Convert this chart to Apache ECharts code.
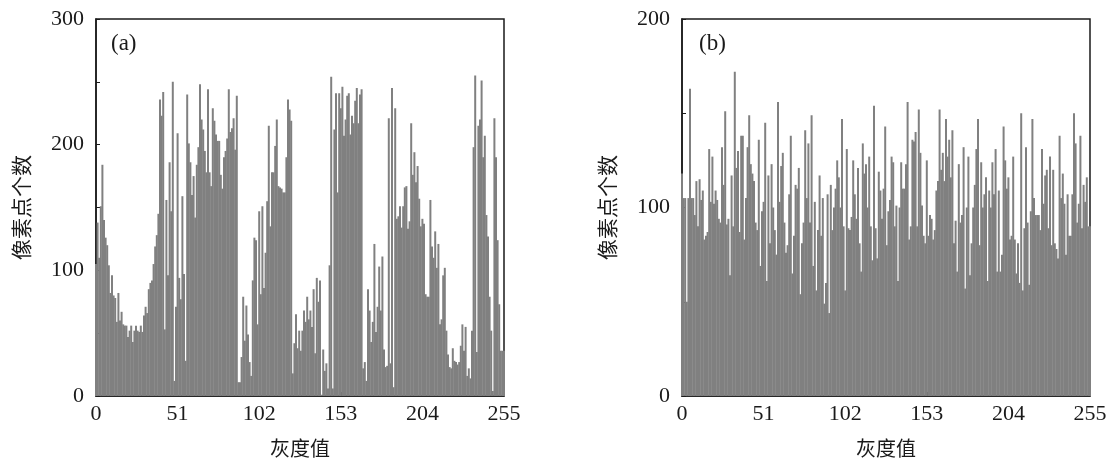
<!DOCTYPE html>
<html><head><meta charset="utf-8">
<style>html,body{margin:0;padding:0;background:#fff}#c{width:1112px;height:459px}</style>
<script src="https://cdn.jsdelivr.net/npm/echarts@6/dist/echarts.min.js"></script>
</head><body><div id="c"></div>
<script>
const xTicks = [0, 51, 102, 153, 204, 255];
const countsA = [
105,138,110,151,184,140,126,120,104,82,
96,80,78,59,82,60,67,57,56,56,
47,52,56,43,52,56,52,51,56,51,
64,71,66,85,90,92,105,119,128,145,
236,223,242,53,156,96,186,147,250,12,
71,209,94,77,159,97,28,240,201,186,
160,175,142,184,198,248,220,212,195,178,
244,178,167,229,219,208,203,203,176,165,
190,195,205,244,210,213,221,196,239,11,
11,31,79,44,72,49,27,16,92,126,
124,57,147,81,151,86,114,155,215,135,
178,178,199,220,167,166,165,162,162,190,
236,228,219,18,42,65,38,52,36,52,
68,59,79,61,68,55,85,34,94,75,
92,1,37,20,26,6,104,254,6,212,
241,162,241,229,246,207,220,239,241,208,
223,217,235,245,217,240,244,22,27,12,
85,68,43,59,121,51,71,103,68,111,
37,23,24,221,26,245,7,229,141,143,
151,134,151,166,167,133,139,217,176,194,
170,183,157,135,141,137,81,79,79,156,
119,110,131,102,121,57,61,96,102,52,
33,23,22,38,28,27,25,27,40,57,
36,55,16,22,14,52,198,255,35,215,
220,251,190,207,144,127,79,52,4,221,
190,124,73,36,36,36];
const countsB = [
118,105,105,50,105,163,105,105,96,114,
90,115,104,109,83,85,87,131,103,127,
102,109,104,94,92,132,112,151,91,94,
64,117,90,172,121,130,87,138,138,83,
105,132,149,123,118,114,92,88,136,69,
98,103,145,61,117,81,123,100,88,75,
156,103,122,129,92,76,80,107,138,65,
85,112,110,121,54,81,92,141,105,134,
92,149,69,103,56,88,117,85,105,49,
60,107,44,112,88,100,110,125,116,100,
147,90,56,131,89,88,95,125,107,94,
121,81,66,134,118,123,100,127,90,72,
154,89,73,119,109,94,110,143,80,98,
104,127,124,90,101,61,100,124,110,110,
123,156,83,90,136,135,140,90,152,129,
101,85,81,125,85,96,94,83,88,109,
114,152,120,129,114,147,127,136,116,141,
81,93,66,123,92,96,132,57,100,127,
64,81,100,112,131,147,80,124,100,107,
116,61,109,100,124,107,131,66,109,66,
75,143,125,110,116,83,85,127,83,65,
81,60,150,56,89,132,92,59,98,147,
105,96,96,96,88,131,102,117,120,89,
127,80,120,81,78,73,138,105,118,102,
75,107,85,85,107,150,134,92,102,138,
89,112,103,116,90,90];
const panelLabels = ['(a)', '(b)'];
const xName = '灰度值', yName = '像素点个数';
const serif = '"Liberation Serif","DejaVu Serif",serif';
const cjk = '"Noto Sans CJK SC"';
const ink = '#1a1a1a';
const toPairs = a => a.map((v, i) => [i, v]);
function xAxis(idx){return {
  gridIndex: idx, type:'value', min:0, max:255, interval:51,
  name:xName, nameLocation:'middle', nameGap:42,
  nameTextStyle:{fontFamily:cjk,fontSize:20,color:ink},
  axisLine:{show:true,onZero:false,lineStyle:{color:ink,width:1.5}},
  axisTick:{show:true,inside:true,length:4,lineStyle:{color:ink,width:1}},
  axisLabel:{fontFamily:serif,fontSize:22,color:ink,margin:7,hideOverlap:false,showMinLabel:true,showMaxLabel:true},
  splitLine:{show:false}
};}
function yAxis(idx,max,nameGap){return {
  gridIndex: idx, type:'value', min:0, max:max, interval:50,
  name:yName, nameLocation:'middle', nameGap:nameGap,
  nameTextStyle:{fontFamily:cjk,fontSize:21,color:ink},
  axisLine:{show:true,lineStyle:{color:ink,width:1.5}},
  axisTick:{show:true,inside:true,length:4,lineStyle:{color:ink,width:1}},
  axisLabel:{fontFamily:serif,fontSize:22,color:ink,margin:12,padding:[5,0,0,0],formatter:v=>v%100===0?String(v):''},
  splitLine:{show:false}
};}
function bars(idx,arr){return {
  type:'bar', xAxisIndex:idx, yAxisIndex:idx, data:toPairs(arr),
  barWidth:2, itemStyle:{color:'#808080'}, silent:true, animation:false
};}
const chart = echarts.init(document.getElementById('c'), null, {renderer:'canvas'});
chart.setOption({
  animation:false, backgroundColor:'#fff',
  grid:[
    {left:96,right:608,top:19,bottom:63,outerBoundsMode:'none',show:true,borderColor:ink,borderWidth:1.5,backgroundColor:'transparent'},
    {left:682,right:22,top:19,bottom:63,outerBoundsMode:'none',show:true,borderColor:ink,borderWidth:1.5,backgroundColor:'transparent'}
  ],
  xAxis:[xAxis(0),xAxis(1)],
  yAxis:[yAxis(0,300,64),yAxis(1,200,64)],
  series:[bars(0,countsA),bars(1,countsB)],
  title:[
    {text:panelLabels[0],left:111,top:32,padding:0,textStyle:{fontFamily:serif,fontSize:23,fontWeight:'normal',color:ink}},
    {text:panelLabels[1],left:699,top:32,padding:0,textStyle:{fontFamily:serif,fontSize:23,fontWeight:'normal',color:ink}}
  ]
});
</script></body></html>
